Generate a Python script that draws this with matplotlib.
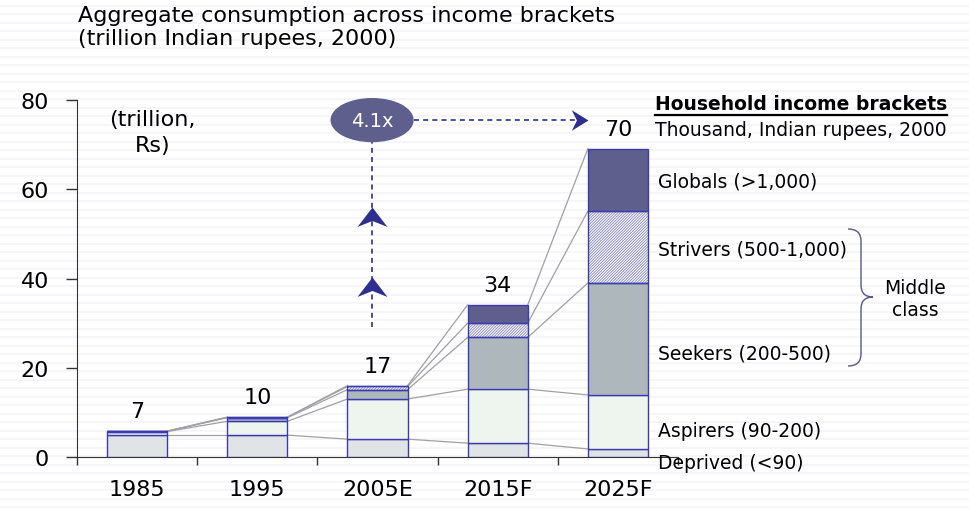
import numpy as np
import matplotlib
matplotlib.use("Agg")
import matplotlib.pyplot as plt
from matplotlib.patches import Ellipse, PathPatch
from matplotlib.path import Path

# ---- data ----
years = ["1985", "1995", "2005E", "2015F", "2025F"]
totals = ["7", "10", "17", "34", "70"]
deprived = [4.9, 4.9, 4.0, 3.1, 1.8]
aspirers = [0.8, 3.1, 9.0, 12.1, 12.1]
seekers = [0.05, 0.8, 2.1, 11.6, 25.1]
strivers = [0.03, 0.1, 0.7, 3.2, 16.1]
globals_ = [0.02, 0.05, 0.2, 4.1, 14.0]
segment_names = ["Deprived (<90)", "Aspirers (90-200)", "Seekers (200-500)",
                 "Strivers (500-1,000)", "Globals (>1,000)"]
multiple_label = "4.1x"

series = [deprived, aspirers, seekers, strivers, globals_]
colors = ["#E1E4E6", "#EDF5EE", "#AEB7BC", "#FFFFFF", "#5F5F8E"]
edge = "#3B3BB0"

W, H = 970, 510
fig = plt.figure(figsize=(W / 100, H / 100), dpi=100)
fig.patch.set_facecolor("white")

# background faint stripes
bg = fig.add_axes([0, 0, 1, 1], zorder=-10)
bg.set_xlim(0, 1); bg.set_ylim(0, H)
for yy in np.arange(2, H, 8.5):
    bg.axhline(yy, color="#F3F3FA", lw=1.2)
bg.axis("off")

def fx(x):
    return x / W

def fy(y):
    return 1 - y / H

ax = fig.add_axes([fx(77), fy(458), fx(678) - fx(77), fy(101) - fy(458)])
ax.patch.set_alpha(0)
x = np.arange(len(years))
bw = 0.5
plt.rcParams["hatch.linewidth"] = 0.6

cum = np.zeros(len(years))
bounds = [cum.copy()]
for i, vals in enumerate(series):
    vals = np.array(vals)
    if i == 3:
        ax.bar(x, vals, bw, bottom=cum, color="white", edgecolor="#8080B8",
               hatch="////////////", linewidth=0, zorder=2)
        ax.bar(x, vals, bw, bottom=cum, color="none", edgecolor=edge,
               linewidth=1.0, zorder=3)
    else:
        ax.bar(x, vals, bw, bottom=cum, color=colors[i], edgecolor=edge,
               linewidth=1.0, zorder=3)
    cum = cum + vals
    bounds.append(cum.copy())

# connector lines
for b in bounds[1:]:
    for j in range(len(years) - 1):
        ax.plot([x[j] + bw / 2, x[j + 1] - bw / 2], [b[j], b[j + 1]],
                color="#A0A0A0", lw=0.9, zorder=1)

# totals
for j, t in enumerate(totals):
    ax.text(x[j], cum[j] + 2.2, t, ha="center", va="bottom", fontsize=16)

ax.set_xlim(-0.5, 4.5)
ax.set_ylim(0, 80)
ax.set_yticks([0, 20, 40, 60, 80])
ax.tick_params(axis="y", labelsize=16, length=8, width=1, pad=12, color="#333333")
ax.set_xticks(x)
ax.set_xticklabels(years)
ax.tick_params(axis="x", which="major", length=0, labelsize=16, pad=16)
ax.set_xticks(np.arange(-0.5, 5, 1), minor=True)
ax.tick_params(axis="x", which="minor", length=6, width=1, color="#333333")
for s in ["top", "right"]:
    ax.spines[s].set_visible(False)
ax.spines["left"].set_color("#333333")
ax.spines["bottom"].set_color("#333333")

# unit label
ax.text(0.13, 78, "(trillion,\nRs)", ha="center", va="top", fontsize=16,
        linespacing=1.35)

# title
fig.text(fx(78), fy(6), "Aggregate consumption across income brackets\n(trillion Indian rupees, 2000)",
         ha="left", va="top", fontsize=16, linespacing=1.2)

# 4.1x ellipse and arrows
navy = "#2E2E8E"
ex, ey = 1.955, 75.5
ax.add_patch(Ellipse((ex, ey), 0.68, 9.6, color="#5F5F8E", zorder=5, clip_on=False))
ax.text(ex, ey, multiple_label, color="white", ha="center", va="center",
        fontsize=14, zorder=6)

up_head = Path([(0, 0), (-1, -1.3), (0, -0.9), (1, -1.3), (0, 0)],
               [Path.MOVETO, Path.LINETO, Path.LINETO, Path.LINETO, Path.CLOSEPOLY])
right_head = Path([(0, 0), (-1.3, 0.8), (-0.9, 0), (-1.3, -0.8), (0, 0)],
                  [Path.MOVETO, Path.LINETO, Path.LINETO, Path.LINETO, Path.CLOSEPOLY])

arrow_end = 3.75
ax.plot([ex + 0.35, arrow_end - 0.05], [ey, ey], color=navy, lw=1.2,
        ls=(0, (3, 2.5)), clip_on=False, zorder=4)
ax.plot([arrow_end], [ey], marker=right_head, markersize=24, color=navy,
        mew=0, clip_on=False, zorder=4)
ax.plot([ex, ex], [29.1, ey - 4.8], color=navy, lw=1.2, ls=(0, (3, 2.5)), zorder=4)
for tip in [56.0, 40.3]:
    ax.plot([ex], [tip], marker=up_head, markersize=28, color=navy, mew=0,
            zorder=4)

# legend labels
lx = fx(658)
label_y = [464, 432, 354, 250, 182]
for name, yy in zip(segment_names, label_y):
    fig.text(lx, fy(yy), name, ha="left", va="center", fontsize=13.5)

hdr = fig.text(fx(655), fy(105), "Household income brackets", ha="left",
               va="center", fontsize=13.5, fontweight="bold")
fig.text(fx(655), fy(130), "Thousand, Indian rupees, 2000", ha="left",
         va="center", fontsize=13.5)
fig.canvas.draw()
bb = hdr.get_window_extent()
fig.add_artist(plt.Line2D([bb.x0 / W, bb.x1 / W], [fy(116), fy(116)],
                          transform=fig.transFigure, color="black", lw=1.6))

# brace
bx0, bx1, bxm = 848, 861, 873
yt, yb, ym = 230, 367, 298
verts = [(bx0, yt), (bx1, yt), (bx1, yt + 12),
         (bx1, ym - 12),
         (bx1, ym), (bxm, ym),
         (bx1, ym), (bx1, ym + 12),
         (bx1, yb - 12),
         (bx1, yb), (bx0, yb)]
codes = [Path.MOVETO, Path.CURVE3, Path.CURVE3,
         Path.LINETO,
         Path.CURVE3, Path.CURVE3,
         Path.CURVE3, Path.CURVE3,
         Path.LINETO,
         Path.CURVE3, Path.CURVE3]
verts = [(fx(a), fy(b)) for a, b in verts]
fig.add_artist(PathPatch(Path(verts, codes), transform=fig.transFigure,
                         fill=False, edgecolor="#55558F", lw=1.0))
fig.text(fx(915), fy(300), "Middle\nclass", ha="center", va="center",
         fontsize=13.5, linespacing=1.2)

fig.savefig("out.png", dpi=100)
